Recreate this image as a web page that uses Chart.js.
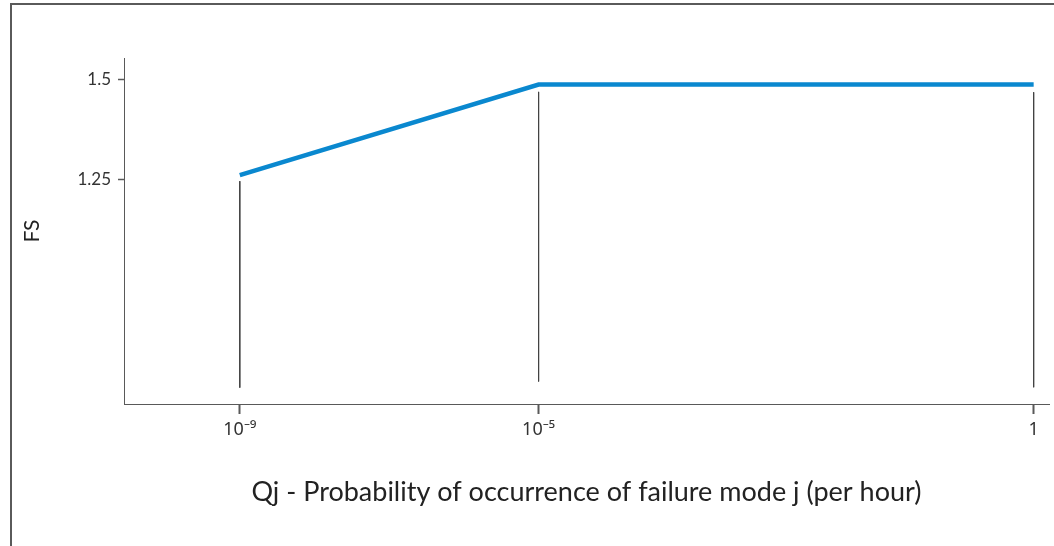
<!DOCTYPE html>
<html>
<head>
<meta charset="utf-8">
<script src="https://cdn.jsdelivr.net/npm/chart.js@4/dist/chart.umd.min.js"></script>
<style>
  html, body { margin: 0; padding: 0; background: #fff; }
  #wrap { position: relative; width: 1054px; height: 546px; overflow: hidden; }
  #frame {
    position: absolute; left: 10px; top: 3px; width: 1100px; height: 600px;
    border-left: 2px solid #5a5a5a; border-top: 2px solid #5a5a5a;
  }
  #chart { position: absolute; left: 0; top: 0; }
</style>
</head>
<body>
<div id="wrap">
  <div id="frame"></div>
  <canvas id="chart" width="1054" height="546"></canvas>
</div>
<script>
// exponents of Qj (log10 of probability per hour)
const qjExponents = [-9, -5, 0];
const qjLabels = ['10\u207B\u2079', '10\u207B\u2075', '1'];
const fsValues = [1.26, 1.4875, 1.4875];

// vertical drop lines under each breakpoint
const dropTop = [1.245, 1.469, 1.468];
const dropBottom = [0.727, 0.7425, 0.728];

const yTicks = [1.25, 1.5];
const yLabels = ['1.25', '1.5'];

// the x axis is drawn schematically: decades below 10^-5 are squeezed
const xKnee = -5;
const xSqueeze = 0.7545;

const LinearScale = Chart.LinearScale;

class WarpScale extends LinearScale {
    static id = 'warp';
    static defaults = LinearScale.defaults;

    warp(v) {
        return v < xKnee ? xKnee + (v - xKnee) * xSqueeze : v;
    }

    unwarp(w) {
        return w < xKnee ? xKnee + (w - xKnee) / xSqueeze : w;
    }

    getPixelForValue(value) {
        if (value === null) return NaN;
        const a = this.warp(this.min);
        const b = this.warp(this.max);
        return this.getPixelForDecimal((this.warp(value) - a) / (b - a));
    }

    getValueForPixel(pixel) {
        const a = this.warp(this.min);
        const b = this.warp(this.max);
        return this.unwarp(a + this.getDecimalForPixel(pixel) * (b - a));
    }
}

Chart.register(WarpScale);

Chart.defaults.font.family = 'Lato, "Open Sans", sans-serif';
Chart.defaults.color = '#333';

const mainLine = qjExponents.map((q, i) => ({ x: q, y: fsValues[i] }));

const dropSets = qjExponents.map((q, i) => ({
    data: [{ x: q, y: dropTop[i] }, { x: q, y: dropBottom[i] }],
    borderColor: '#444',
    borderWidth: 1,
    pointRadius: 0,
    fill: false
}));

const chart = new Chart(document.getElementById('chart'), {
    type: 'line',
    data: {
        datasets: [
            {
                data: mainLine,
                borderColor: '#0a88cf',
                borderWidth: 4.5,
                pointRadius: 0,
                tension: 0,
                fill: false,
                borderJoinStyle: 'miter'
            },
            ...dropSets
        ]
    },
    options: {
        responsive: false,
        animation: false,
        events: [],
        layout: { padding: { left: 0, right: 5, top: 58, bottom: 0 } },
        plugins: {
            legend: { display: false },
            tooltip: { enabled: false }
        },
        scales: {
            x: {
                type: 'warp',
                min: -10.55,
                max: 0.155,
                bounds: 'data',
                afterBuildTicks: (scale) => {
                    scale.ticks = qjExponents.map(v => ({ value: v }));
                },
                afterFit: (scale) => { scale.height = 142; },
                border: { display: true, color: '#595959', width: 1 },
                grid: {
                    display: true,
                    drawOnChartArea: false,
                    drawTicks: true,
                    tickLength: 10,
                    tickWidth: 2,
                    color: '#595959'
                },
                ticks: {
                    autoSkip: false,
                    maxRotation: 0,
                    padding: 5,
                    color: '#333',
                    font: { family: '"Noto Sans", sans-serif', size: 18 },
                    callback: (value) => qjLabels[qjExponents.indexOf(value)]
                },
                title: {
                    display: true,
                    text: 'Qj - Probability of occurrence of failure mode j (per hour)',
                    color: '#222',
                    font: { size: 27 },
                    padding: { top: 0, bottom: 38 }
                }
            },
            y: {
                type: 'linear',
                min: 0.686,
                max: 1.554,
                bounds: 'data',
                afterBuildTicks: (scale) => {
                    scale.ticks = yTicks.map(v => ({ value: v }));
                },
                afterFit: (scale) => { scale.width = 124; },
                border: { display: true, color: '#595959', width: 1 },
                grid: {
                    display: true,
                    drawOnChartArea: false,
                    drawTicks: true,
                    tickLength: 6,
                    tickWidth: 1.5,
                    color: '#595959'
                },
                ticks: {
                    padding: 7,
                    color: '#333',
                    font: { size: 17 },
                    callback: (value) => yLabels[yTicks.indexOf(value)]
                },
                title: {
                    display: true,
                    text: 'FS',
                    color: '#222',
                    font: { size: 21 },
                    padding: { top: 20, bottom: 0 }
                }
            }
        }
    }
});
</script>
</body>
</html>
